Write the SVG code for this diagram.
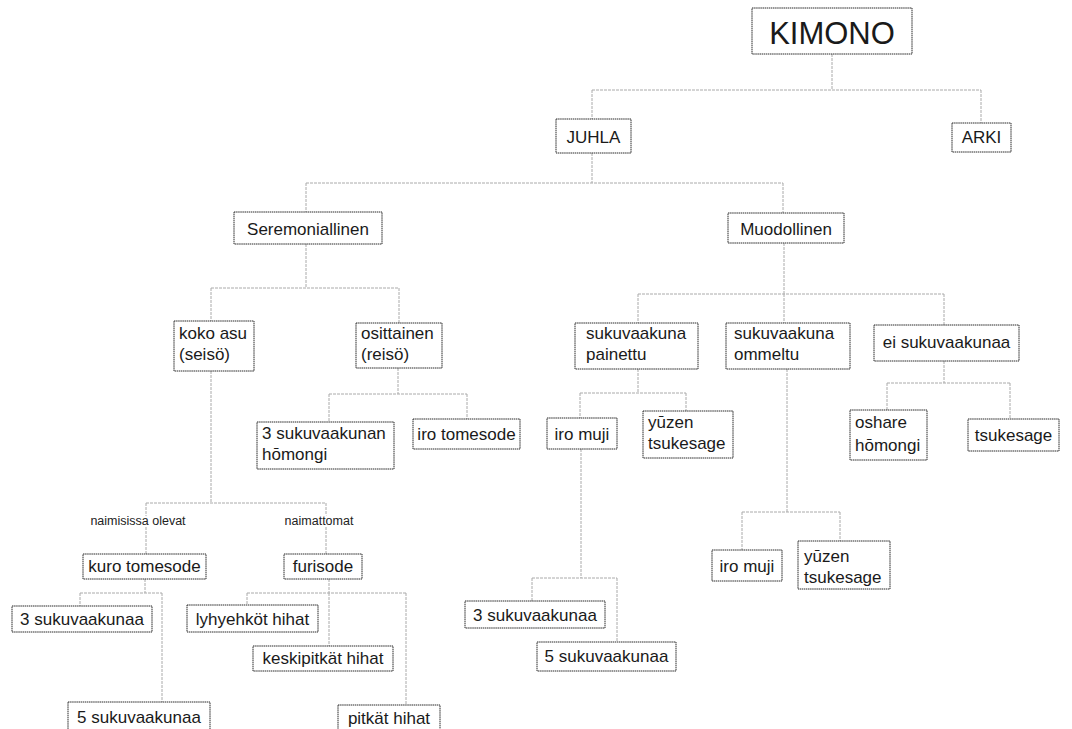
<svg xmlns="http://www.w3.org/2000/svg" width="1072" height="729" viewBox="0 0 1072 729">
<style>
.b{fill:#fff;stroke:#2a2a2a;stroke-width:1;stroke-dasharray:1.5 0.6}
.t{font-family:"Liberation Sans",Arial,sans-serif;font-size:17px;fill:#1a1a1a}
.c{text-anchor:middle}
.k{font-size:31px}
.l{font-family:"Liberation Sans",Arial,sans-serif;font-size:12.5px;fill:#222;text-anchor:middle;stroke:#fff;stroke-width:4;paint-order:stroke}
#connectors path{fill:none;stroke:#aaa;stroke-width:1;stroke-dasharray:3 1}
</style>
<rect width="1072" height="729" fill="#fff"/>
<g id="connectors">
<path d="M832 54V90M592 90H981M592 90V119M981 90V123"/>
<path d="M592 153V183M306 183H783M306 183V212M783 183V213"/>
<path d="M306 244V288M211 288H399M211 288V321M399 288V323"/>
<path d="M784 243V294M638 294H944M638 294V323M784 294V323M944 294V325"/>
<path d="M211 371V503M146 503H326M146 503V554M326 503V554"/>
<path d="M398 368V394M329 394H467M329 394V422M467 394V419"/>
<path d="M638 369V393M580 393H686M580 393V418M686 393V411"/>
<path d="M787 369V512M742 512H840M742 512V550M840 512V541"/>
<path d="M944 361V383M887 383H1010M887 383V410M1010 383V419"/>
<path d="M581 449V578M532 578H617M532 578V601M617 578V642"/>
<path d="M145 579V593M80 593H162M80 593V606M162 593V702"/>
<path d="M329 579V593M247 593H406M247 593V605M329 593V646M406 593V705"/>
</g>
<g id="lbl-naimisissa"><text class="l" x="138" y="525">naimisissa olevat</text></g>
<g id="lbl-naimattomat"><text class="l" x="319" y="525">naimattomat</text></g>
<g id="kimono"><rect class="b" x="752" y="8" width="160" height="46"/><text class="t c k" x="832" y="44">KIMONO</text></g>
<g id="juhla"><rect class="b" x="556" y="119" width="75" height="34"/><text class="t c" x="593.5" y="143">JUHLA</text></g>
<g id="arki"><rect class="b" x="952" y="123" width="59" height="29"/><text class="t c" x="981.5" y="143">ARKI</text></g>
<g id="seremoniallinen"><rect class="b" x="234" y="212" width="148" height="32"/><text class="t c" x="308" y="235">Seremoniallinen</text></g>
<g id="muodollinen"><rect class="b" x="728" y="213" width="116" height="30"/><text class="t c" x="786" y="235">Muodollinen</text></g>
<g id="koko-asu"><rect class="b" x="174" y="321" width="80" height="50"/><text class="t" x="179" y="339">koko asu<tspan x="179" y="360">(seisö)</tspan></text></g>
<g id="osittainen"><rect class="b" x="356" y="323" width="86" height="45"/><text class="t" x="361" y="339">osittainen<tspan x="361" y="360">(reisö)</tspan></text></g>
<g id="painettu"><rect class="b" x="575" y="323" width="123" height="46"/><text class="t" x="586" y="339">sukuvaakuna<tspan x="586" y="360">painettu</tspan></text></g>
<g id="ommeltu"><rect class="b" x="726" y="323" width="124" height="46"/><text class="t" x="734" y="339">sukuvaakuna<tspan x="734" y="360">ommeltu</tspan></text></g>
<g id="ei-sukuvaakunaa"><rect class="b" x="874" y="325" width="145" height="36"/><text class="t c" x="946.5" y="348">ei sukuvaakunaa</text></g>
<g id="hoomongi3"><rect class="b" x="257" y="422" width="137" height="47"/><text class="t" x="262" y="439">3 sukuvaakunan<tspan x="262" y="460">hōmongi</tspan></text></g>
<g id="iro-tomesode"><rect class="b" x="413" y="419" width="107" height="30"/><text class="t c" x="466.5" y="440">iro tomesode</text></g>
<g id="iro-muji-1"><rect class="b" x="547" y="418" width="70" height="31"/><text class="t c" x="582" y="440">iro muji</text></g>
<g id="yuzen-1"><rect class="b" x="643" y="411" width="90" height="47"/><text class="t" x="648" y="428">yūzen<tspan x="648" y="449">tsukesage</tspan></text></g>
<g id="oshare"><rect class="b" x="850" y="410" width="77" height="50"/><text class="t" x="855" y="428">oshare<tspan x="855" y="451">hōmongi</tspan></text></g>
<g id="tsukesage"><rect class="b" x="968" y="419" width="91" height="32"/><text class="t c" x="1013.5" y="441">tsukesage</text></g>
<g id="kuro-tomesode"><rect class="b" x="83" y="554" width="123" height="25"/><text class="t c" x="144.5" y="572">kuro tomesode</text></g>
<g id="furisode"><rect class="b" x="284" y="554" width="78" height="25"/><text class="t c" x="323" y="572">furisode</text></g>
<g id="suku3-left"><rect class="b" x="12" y="606" width="140" height="26"/><text class="t c" x="82" y="625">3 sukuvaakunaa</text></g>
<g id="lyhyehkot"><rect class="b" x="187" y="605" width="131" height="27"/><text class="t c" x="252.5" y="625">lyhyehköt hihat</text></g>
<g id="keskipitkat"><rect class="b" x="253" y="646" width="140" height="25"/><text class="t c" x="323" y="664">keskipitkät hihat</text></g>
<g id="suku5-left"><rect class="b" x="68" y="702" width="142" height="30"/><text class="t c" x="139" y="723">5 sukuvaakunaa</text></g>
<g id="pitkat"><rect class="b" x="338" y="705" width="102" height="28"/><text class="t c" x="389" y="724">pitkät hihat</text></g>
<g id="suku3-mid"><rect class="b" x="465" y="601" width="140" height="27"/><text class="t c" x="535" y="621">3 sukuvaakunaa</text></g>
<g id="suku5-mid"><rect class="b" x="537" y="642" width="139" height="29"/><text class="t c" x="606.5" y="662">5 sukuvaakunaa</text></g>
<g id="iro-muji-2"><rect class="b" x="712" y="550" width="70" height="31"/><text class="t c" x="747" y="572">iro muji</text></g>
<g id="yuzen-2"><rect class="b" x="798" y="541" width="92" height="48"/><text class="t" x="804" y="562">yūzen<tspan x="804" y="583">tsukesage</tspan></text></g>
</svg>
